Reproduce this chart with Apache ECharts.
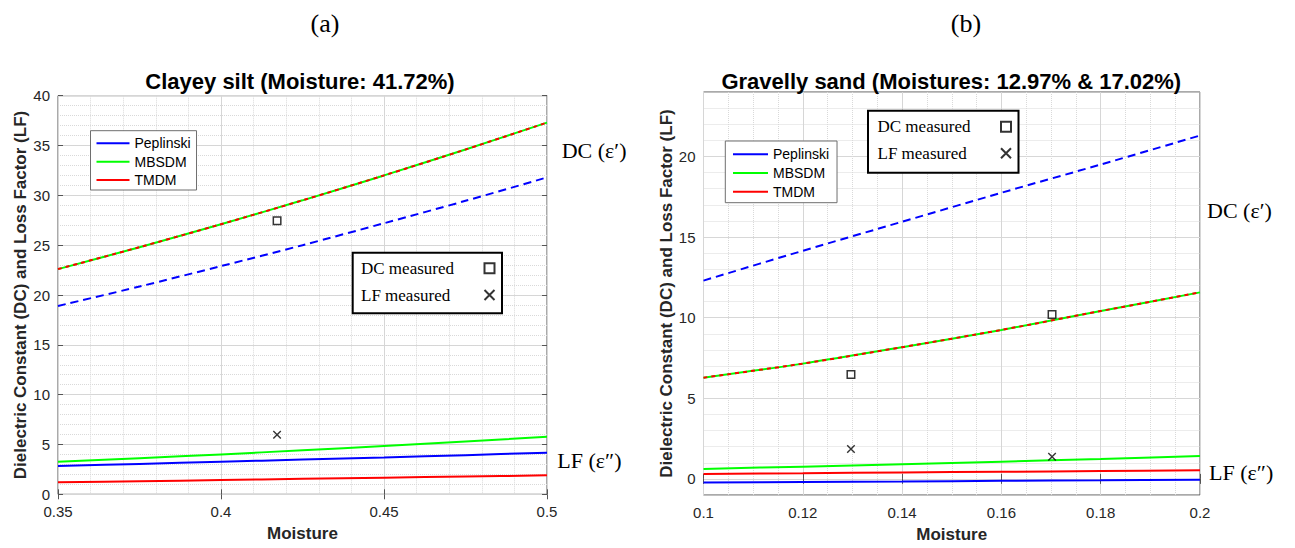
<!DOCTYPE html>
<html>
<head>
<meta charset="utf-8">
<script src="https://cdn.jsdelivr.net/npm/echarts@6/dist/echarts.min.js"></script>
<style>
html,body{margin:0;padding:0;background:#fff;}
#chart{width:1295px;height:548px;}
</style>
</head>
<body>
<div id="chart"></div>
<script>
// ---- Data ----
const xLeft = [0.35, 0.375, 0.4, 0.425, 0.45, 0.475, 0.5];
const leftPepDC = [18.9, 20.85, 22.9, 25.0, 27.2, 29.45, 31.8];
const leftMbDC  = [22.6, 24.8, 27.1, 29.5, 32.0, 34.6, 37.3];
const leftTmDC  = [22.6, 24.8, 27.1, 29.5, 32.0, 34.6, 37.3];
const leftPepLF = [2.84, 3.05, 3.27, 3.48, 3.7, 3.93, 4.18];
const leftMbLF  = [3.27, 3.62, 4.0, 4.42, 4.85, 5.3, 5.78];
const leftTmLF  = [1.2, 1.31, 1.43, 1.55, 1.67, 1.78, 1.9];
const leftMeasX  = [0.4172];
const leftMeasDC = [27.45];
const leftMeasLF = [5.98];

const xRight = [0.1, 0.12, 0.14, 0.16, 0.18, 0.2];
const rightPepDC = [12.3, 14.15, 15.95, 17.75, 19.5, 21.3];
const rightMbDC  = [6.28, 7.15, 8.17, 9.24, 10.41, 11.57];
const rightTmDC  = [6.28, 7.15, 8.17, 9.24, 10.41, 11.57];
const rightPepLF = [-0.22, -0.19, -0.16, -0.12, -0.09, -0.06];
const rightMbLF  = [0.62, 0.76, 0.91, 1.07, 1.24, 1.42];
const rightTmLF  = [0.31, 0.35, 0.4, 0.44, 0.49, 0.54];
const rightMeasX  = [0.1297, 0.1702];
const rightMeasDC = [6.48, 10.19];
const rightMeasLF = [1.85, 1.38];

const rightYTicks = [0, 5, 10, 15, 20];
const modelNames = ['Peplinski', 'MBSDM', 'TMDM'];
const measNames = ['DC measured', 'LF measured'];
const titleLeft = 'Clayey silt (Moisture: 41.72%)';
const titleRight = 'Gravelly sand (Moistures: 12.97% & 17.02%)';
const yName = 'Dielectric Constant (DC) and Loss Factor (LF)';
const xName = 'Moisture';

// ---- Styles ----
const SANS = "'Liberation Sans', Arial, sans-serif";
const SERIF = "'Liberation Serif', 'Times New Roman', serif";
const BLUE = '#0000ff', GREEN = '#00ff00', RED = '#ff0000';
const MAJOR = '#d6d6d6', MINOR = '#d9d9d9';
const BOX = '#555';

function pairs(xs, ys) { return xs.map((x, i) => [x, ys[i]]); }

function lineSeries(name, xs, ys, color, gi, dash, z) {
  return {
    type: 'line', name: name, xAxisIndex: gi, yAxisIndex: gi === 0 ? 0 : 1,
    data: pairs(xs, ys), symbol: 'none', smooth: 0.3, silent: true,
    lineStyle: { color: color, width: 2, type: dash || 'solid' },
    itemStyle: { color: color },
    emphasis: { disabled: true }, z: z || 2
  };
}
function measSeries(name, xs, ys, gi) {
  const isDC = name === 'DC measured';
  return {
    type: 'scatter', name: name, xAxisIndex: gi, yAxisIndex: gi === 0 ? 0 : 1,
    data: pairs(xs, ys), silent: true, z: 5,
    symbol: isDC ? 'path://M0,0L10,0L10,10L0,10Z' : 'path://M0,0L10,10M10,0L0,10',
    symbolSize: 7.5,
    itemStyle: isDC ? { color: '#fff', borderColor: '#000', borderWidth: 1.5 }
                    : { color: 'none', borderColor: '#000', borderWidth: 1.4 },
    emphasis: { disabled: true }
  };
}

function xAxisCfg(gi, min, max, interval, minorSplit) {
  return {
    type: 'value', gridIndex: gi, min: min, max: max, interval: interval,
    name: xName, nameLocation: 'middle', nameGap: 31,
    nameTextStyle: { fontFamily: SANS, fontSize: 17, fontWeight: 'bold', color: '#262626' },
    axisLine: { show: false },
    axisTick: { show: true, inside: true, length: 5, lineStyle: { color: BOX } },
    axisLabel: { fontFamily: SANS, fontSize: 15, color: '#262626', margin: 10 },
    splitLine: { show: true, lineStyle: { color: MAJOR, width: 1 } },
    minorTick: { show: false, splitNumber: minorSplit },
    minorSplitLine: { show: true, lineStyle: { color: MINOR, width: 1, type: 'dotted' } }
  };
}
function mirrorAxis(gi, pos, min, max, interval) {
  return {
    type: 'value', gridIndex: gi, position: pos, min: min, max: max, interval: interval,
    axisLine: { show: false }, axisLabel: { show: false }, splitLine: { show: false },
    axisTick: { show: true, inside: true, length: 5, lineStyle: { color: BOX } }
  };
}

const series = [
  // left
  lineSeries('Peplinski', xLeft, leftPepLF, BLUE, 0),
  lineSeries('MBSDM', xLeft, leftMbLF, GREEN, 0),
  lineSeries('TMDM', xLeft, leftTmLF, RED, 0),
  lineSeries('Peplinski', xLeft, leftPepDC, BLUE, 0, [8, 5]),
  lineSeries('MBSDM', xLeft, leftMbDC, GREEN, 0),
  lineSeries('TMDM', xLeft, leftTmDC, RED, 0, [4, 4], 3),
  measSeries('DC measured', leftMeasX, leftMeasDC, 0),
  measSeries('LF measured', leftMeasX, leftMeasLF, 0),
  // right
  lineSeries('Peplinski', xRight, rightPepLF, BLUE, 1),
  lineSeries('MBSDM', xRight, rightMbLF, GREEN, 1),
  lineSeries('TMDM', xRight, rightTmLF, RED, 1),
  lineSeries('Peplinski', xRight, rightPepDC, BLUE, 1, [8, 5]),
  lineSeries('MBSDM', xRight, rightMbDC, GREEN, 1),
  lineSeries('TMDM', xRight, rightTmDC, RED, 1, [4, 4], 3),
  measSeries('DC measured', rightMeasX, rightMeasDC, 1),
  measSeries('LF measured', rightMeasX, rightMeasLF, 1)
];

function modelLegend(left, top, padding, itemWidth, gap) {
  return {
    data: modelNames, orient: 'vertical', left: left, top: top, padding: padding,
    itemWidth: itemWidth, itemHeight: 14, itemGap: gap, selectedMode: false,
    itemStyle: { opacity: 0 },
    backgroundColor: '#fff', borderColor: '#6e6e6e', borderWidth: 1,
    textStyle: { fontFamily: SANS, fontSize: 14, color: '#000', lineHeight: 14 }
  };
}
function measLegend(left, top, padding, gap) {
  return {
    data: measNames, orient: 'vertical', align: 'right', left: left, top: top, padding: padding,
    itemWidth: 53, itemHeight: 10, itemGap: gap, selectedMode: false,
    backgroundColor: '#fff', borderColor: '#000', borderWidth: 2,
    formatter: n => '{t|' + n + '}',
    textStyle: { fontFamily: SERIF, fontSize: 17, color: '#000', lineHeight: 17,
      rich: { t: { width: 97, align: 'left', fontFamily: SERIF, fontSize: 17, color: '#000', lineHeight: 17 } } }
  };
}

function txt(text, x, y, size, family, weight, align) {
  return { type: 'text', x: x, y: y, silent: true, z: 100,
    style: { text: text, fontSize: size, fontFamily: family, fontWeight: weight || 'normal',
      fill: '#000', align: align || 'center', verticalAlign: 'middle' } };
}

const option = {
  backgroundColor: '#fff',
  animation: false,
  grid: [
    { left: 58, top: 95.7, width: 489, height: 398.6, show: true, borderColor: BOX, borderWidth: 1, backgroundColor: 'transparent' },
    { left: 703.5, top: 92, width: 496.5, height: 405, show: true, borderColor: BOX, borderWidth: 1, backgroundColor: 'transparent' }
  ],
  xAxis: [
    xAxisCfg(0, 0.35, 0.5, 0.05, 5),
    xAxisCfg(1, 0.1, 0.2, 0.02, 4),
    mirrorAxis(0, 'top', 0.35, 0.5, 0.05),
    mirrorAxis(1, 'top', 0.1, 0.2, 0.02)
  ],
  yAxis: [
    {
      type: 'value', gridIndex: 0, min: 0, max: 40, interval: 5,
      name: yName, nameLocation: 'middle', nameGap: 29, nameRotate: 90,
      nameTextStyle: { fontFamily: SANS, fontSize: 17, fontWeight: 'bold', color: '#262626' },
      axisLine: { show: false },
      axisTick: { show: true, inside: true, length: 5, lineStyle: { color: BOX } },
      axisLabel: { fontFamily: SANS, fontSize: 15, color: '#262626', margin: 8 },
      splitLine: { show: true, lineStyle: { color: MAJOR, width: 1 } },
      minorTick: { show: false, splitNumber: 5 },
      minorSplitLine: { show: true, lineStyle: { color: MINOR, width: 1, type: 'dotted' } }
    },
    {
      type: 'value', gridIndex: 1, min: -1, max: 24, interval: 1, position: 'left',
      name: yName, nameLocation: 'middle', nameGap: 29, nameRotate: 90,
      nameTextStyle: { fontFamily: SANS, fontSize: 17, fontWeight: 'bold', color: '#262626' },
      axisLine: { show: false },
      axisTick: { show: false },
      axisLabel: { fontFamily: SANS, fontSize: 15, color: '#262626', margin: 8,
        formatter: v => (rightYTicks.indexOf(v) >= 0 ? String(v) : '') },
      splitLine: { show: true, lineStyle: { color: ['transparent', MAJOR, 'transparent', 'transparent', 'transparent'], width: 1 } }
    },
    {
      type: 'value', gridIndex: 1, min: -1, max: 24, interval: 1, position: 'right',
      axisLine: { show: false }, axisTick: { show: false }, axisLabel: { show: false },
      splitLine: { show: true, lineStyle: { color: MINOR, width: 1, type: 'dotted' } }
    },
    mirrorAxis(0, 'right', 0, 40, 5)
  ],
  legend: [
    modelLegend(90.5, 130.7, [5.6, 6, 3, 5], 33, 4.35),
    modelLegend(725.3, 141, [6.3, 8, 4, 6.7], 35, 4.7),
    measLegend(352.7, 252.7, [7.1, 5, 9.8, 8.3], 9.7),
    measLegend(868, 110.7, [7.5, 5, 10.9, 9.5], 9.6)
  ],
  graphic: [
    txt('(a)', 325, 23, 26, SERIF),
    txt('(b)', 966, 23, 26, SERIF),
    txt(titleLeft, 300, 81.7, 22, SANS, 'bold'),
    txt(titleRight, 951.3, 81.7, 22, SANS, 'bold'),
    txt('DC (\u03b5\u2032)', 561.7, 150, 22, SERIF, 'normal', 'left'),
    txt('LF (\u03b5\u2033)', 557.3, 460, 22, SERIF, 'normal', 'left'),
    txt('DC (\u03b5\u2032)', 1207, 210, 22, SERIF, 'normal', 'left'),
    txt('LF (\u03b5\u2033)', 1209, 472.7, 22, SERIF, 'normal', 'left')
  ],
  series: series
};

const chart = echarts.init(document.getElementById('chart'), null, { renderer: 'svg' });
chart.setOption(option);
</script>
</body>
</html>
